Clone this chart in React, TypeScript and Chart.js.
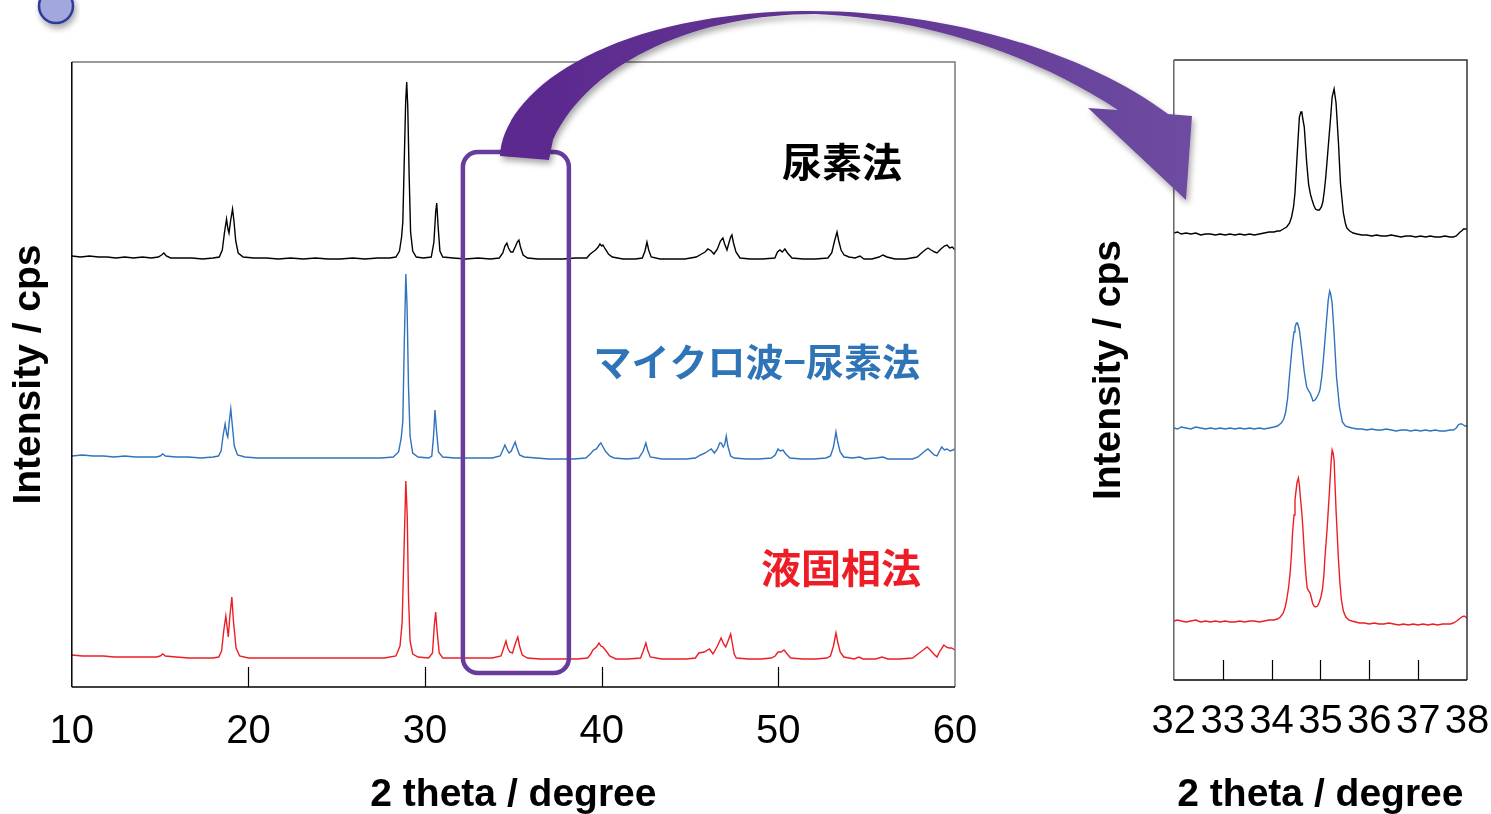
import React, { useEffect, useRef } from 'react';
import { Chart, registerables } from 'chart.js';

Chart.register(...registerables);

type Pt = [number, number];

// ---------- text ----------
const SERIES_NAMES = ['尿素法', 'マイクロ波−尿素法', '液固相法'];
const X_TITLE = '2 theta / degree';
const Y_TITLE = 'Intensity / cps';

// ---------- ticks ----------
const MAIN_X_TICKS = [10, 20, 30, 40, 50, 60];
const ZOOM_X_TICKS = [32, 33, 34, 35, 36, 37, 38];

// ---------- vertical offsets of the stacked patterns ----------
const MAIN_OFFSETS = [430, 231, 31];
const ZOOM_OFFSETS = [447, 252, 59];

// ---------- full patterns (2θ, relative intensity) ----------
const mainUrea: Pt[] = [
  [10.0, 1], [10.5, 0], [11.0, 1], [11.5, 0], [12.0, 0], [12.5, -1], [13.0, 0], [13.5, -1], [14.0, 0], [14.5, -1],
  [14.9, 0], [15.08, 2], [15.21, 4], [15.35, 1], [15.6, -1], [16.2, -1], [16.8, -1], [17.4, -2], [18.0, -1], [18.35, 0],
  [18.52, 7], [18.64, 24], [18.76, 38], [18.84, 28], [18.9, 24], [18.98, 35], [19.1, 48], [19.18, 36], [19.28, 16], [19.42, 4],
  [19.7, 0], [20.3, -1], [21.0, -1], [21.7, -2], [22.4, -1], [23.1, -2], [23.8, -1], [24.5, -2], [25.2, -2], [25.9, -1],
  [26.6, -2], [27.3, -1], [28.0, -1], [28.35, 0], [28.55, 6], [28.67, 20], [28.74, 35], [28.82, 95], [28.9, 155], [28.96, 175],
  [29.02, 150], [29.1, 80], [29.18, 25], [29.3, 6], [29.5, 0], [29.9, -1], [30.35, 0], [30.5, 15], [30.6, 45], [30.66, 54],
  [30.74, 30], [30.84, 6], [31.0, 0], [31.6, -1], [32.3, -2], [33.0, -1], [33.7, -2], [34.2, -1], [34.4, 4], [34.52, 11],
  [34.63, 14], [34.72, 9], [34.85, 5], [34.97, 5], [35.1, 10], [35.22, 15], [35.31, 17], [35.4, 10], [35.55, 2], [35.8, -1],
  [36.4, -2], [37.1, -2], [37.8, -2], [38.5, -1], [39.15, -1], [39.35, 3], [39.5, 5], [39.65, 7], [39.8, 10], [39.9, 13],
  [40.0, 11], [40.07, 12], [40.2, 8], [40.38, 3], [40.6, 0], [41.2, -2], [41.9, -2], [42.3, -1], [42.45, 6], [42.56, 15],
  [42.66, 7], [42.8, 0], [43.3, -2], [44.0, -2], [44.7, -2], [45.35, 0], [45.65, 3], [45.85, 5], [46.01, 8], [46.2, 6],
  [46.35, 3], [46.55, 8], [46.72, 16], [46.86, 19], [46.96, 13], [47.09, 7], [47.2, 14], [47.3, 20], [47.37, 22], [47.46, 14],
  [47.6, 5], [47.83, -1], [48.4, -2], [49.1, -2], [49.8, -1], [49.95, 5], [50.09, 7], [50.22, 5], [50.37, 8], [50.52, 4],
  [50.77, -1], [51.4, -2], [52.1, -2], [52.8, -1], [53.02, 4], [53.18, 16], [53.32, 25], [53.42, 16], [53.55, 7], [53.72, 2],
  [54.0, 0], [54.35, -1], [54.62, 1], [54.85, -2], [55.3, -2], [55.7, 0], [55.92, 2], [56.15, 0], [56.6, -2], [57.2, -2],
  [57.85, 0], [58.1, 4], [58.3, 7], [58.47, 9], [58.65, 7], [58.85, 5], [58.98, 4], [59.2, 8], [59.4, 11], [59.55, 12],
  [59.7, 9], [59.85, 10], [60.0, 7],
];

const mainMicrowave: Pt[] = [
  [10.0, 0], [10.6, 1], [11.2, 0], [11.8, 0], [12.4, -1], [13.0, 0], [13.6, -1], [14.2, -1], [14.8, -1], [15.0, 0],
  [15.15, 2], [15.3, 0], [15.9, -1], [16.6, -1], [17.3, -2], [18.0, -1], [18.3, 0], [18.45, 5], [18.57, 21], [18.68, 32],
  [18.77, 22], [18.83, 19], [18.92, 35], [19.0, 47], [19.08, 32], [19.2, 10], [19.38, 1], [19.8, -1], [20.5, -2], [21.2, -2],
  [21.9, -2], [22.6, -2], [23.3, -2], [24.0, -2], [24.7, -2], [25.4, -2], [26.1, -2], [26.8, -2], [27.5, -2], [28.2, -1],
  [28.5, 4], [28.65, 18], [28.74, 35], [28.82, 110], [28.91, 182], [28.98, 150], [29.06, 70], [29.15, 20], [29.3, 3], [29.6, -1],
  [30.2, -2], [30.38, 0], [30.48, 20], [30.56, 46], [30.65, 25], [30.76, 4], [31.0, -1], [31.7, -2], [32.4, -2], [33.1, -2],
  [33.8, -2], [34.25, 0], [34.4, 6], [34.52, 11], [34.62, 7], [34.75, 3], [34.88, 5], [35.0, 10], [35.1, 14], [35.2, 8],
  [35.35, 1], [35.6, -1], [36.3, -2], [37.0, -3], [37.7, -3], [38.4, -3], [39.1, -2], [39.35, 2], [39.55, 6], [39.7, 7],
  [39.85, 11], [39.95, 13], [40.05, 10], [40.2, 5], [40.45, 0], [40.7, -2], [41.4, -3], [42.1, -2], [42.35, 5], [42.5, 13],
  [42.6, 6], [42.75, -1], [43.4, -3], [44.1, -3], [44.8, -3], [45.3, -2], [45.6, 1], [45.86, 3], [46.02, 5], [46.2, 7],
  [46.38, 3], [46.55, 7], [46.68, 13], [46.76, 13], [46.88, 9], [46.97, 12], [47.05, 20], [47.14, 10], [47.3, 0], [47.5, -2],
  [48.2, -3], [48.9, -3], [49.6, -2], [49.82, 1], [49.98, 7], [50.1, 5], [50.26, 6], [50.42, 2], [50.65, -2], [51.3, -3],
  [52.0, -3], [52.7, -2], [52.95, 0], [53.12, 9], [53.26, 24], [53.36, 14], [53.5, 4], [53.7, -1], [54.2, -2], [54.6, -1],
  [54.9, -3], [55.5, -2], [55.92, -1], [56.2, -3], [56.9, -3], [57.6, -3], [57.9, -1], [58.1, 2], [58.3, 5], [58.47, 7],
  [58.65, 4], [58.82, 1], [58.98, 0], [59.12, 5], [59.25, 9], [59.4, 6], [59.55, 7], [59.72, 5], [59.88, 6], [60.0, 7],
];

const mainLiquid: Pt[] = [
  [10.0, 1], [10.6, 0], [11.2, 0], [11.8, 0], [12.4, -1], [13.0, -1], [13.6, -1], [14.2, -1], [14.8, -1], [15.0, 0],
  [15.15, 2], [15.3, 0], [15.9, -1], [16.6, -2], [17.3, -2], [18.0, -2], [18.32, -1], [18.48, 5], [18.6, 25], [18.72, 40],
  [18.8, 28], [18.86, 19], [18.95, 40], [19.06, 59], [19.15, 35], [19.3, 8], [19.5, 0], [20.0, -2], [20.7, -2], [21.4, -2],
  [22.1, -2], [22.8, -2], [23.5, -2], [24.2, -2], [24.9, -2], [25.6, -2], [26.3, -2], [27.0, -2], [27.7, -2], [28.35, 0],
  [28.58, 10], [28.7, 33], [28.8, 100], [28.91, 175], [28.99, 140], [29.06, 60], [29.15, 15], [29.3, 2], [29.6, -1], [30.2, -2],
  [30.42, 3], [30.52, 30], [30.6, 44], [30.68, 25], [30.8, 3], [31.0, -2], [31.7, -2], [32.4, -2], [33.1, -2], [33.8, -2],
  [34.3, 0], [34.45, 8], [34.58, 15], [34.68, 8], [34.8, 4], [34.95, 3], [35.1, 12], [35.25, 19], [35.35, 10], [35.5, 1],
  [35.8, -2], [36.5, -3], [37.2, -3], [37.9, -3], [38.6, -3], [39.2, -2], [39.38, 2], [39.5, 6], [39.7, 9], [39.85, 13],
  [39.95, 10], [40.07, 9], [40.25, 5], [40.45, 0], [40.8, -3], [41.5, -3], [42.2, -2], [42.35, 5], [42.5, 13], [42.6, 6],
  [42.75, -1], [43.4, -3], [44.1, -3], [44.8, -3], [45.3, -2], [45.5, 3], [45.8, 4], [46.1, 7], [46.3, 2], [46.55, 10],
  [46.76, 18], [46.9, 12], [47.02, 9], [47.15, 15], [47.3, 22], [47.4, 12], [47.5, 2], [47.62, -2], [48.3, -3], [49.0, -3],
  [49.6, -2], [49.82, 0], [49.98, 4], [50.15, 4], [50.32, 6], [50.5, 2], [50.7, -2], [51.4, -3], [52.1, -3], [52.75, -2],
  [52.95, 0], [53.12, 10], [53.26, 23], [53.36, 14], [53.5, 4], [53.7, -1], [54.3, -3], [54.56, -1], [54.8, -3], [55.5, -3],
  [55.87, -1], [56.2, -3], [56.9, -3], [57.6, -2], [57.9, 2], [58.2, 6], [58.42, 9], [58.6, 6], [58.8, 2], [58.98, -1],
  [59.15, 5], [59.37, 11], [59.5, 9], [59.65, 8], [59.8, 8], [60.0, 6],
];

// ---------- zoomed patterns 32–38° ----------
const zoomUrea: Pt[] = [
  [32.0, 0], [32.08, 1], [32.15, -1], [32.25, 0], [32.35, -1], [32.45, 0], [32.55, -2], [32.65, -1], [32.75, -1], [32.85, -2],
  [32.95, -1], [33.05, -2], [33.15, -1], [33.25, -2], [33.35, -1], [33.45, -2], [33.55, -1], [33.65, -2], [33.75, -1], [33.85, 0],
  [33.95, 1], [34.05, 1], [34.12, 2], [34.17, 2], [34.24, 4], [34.31, 6], [34.37, 10], [34.41, 16], [34.45, 26], [34.48, 40],
  [34.53, 83], [34.57, 116], [34.6, 121], [34.62, 121], [34.64, 114], [34.67, 106], [34.72, 70], [34.76, 48], [34.8, 38], [34.83, 33],
  [34.87, 27], [34.9, 24], [34.94, 23], [34.98, 23], [35.02, 26], [35.05, 31], [35.08, 42], [35.11, 56], [35.16, 86], [35.21, 116],
  [35.24, 136], [35.28, 144], [35.32, 130], [35.37, 90], [35.41, 50], [35.47, 20], [35.51, 10], [35.54, 5], [35.6, 2], [35.67, 0],
  [35.75, -1], [35.85, -2], [35.95, -2], [36.05, -3], [36.15, -2], [36.25, -3], [36.35, -3], [36.45, -2], [36.55, -3], [36.65, -4],
  [36.75, -3], [36.85, -3], [36.95, -4], [37.05, -3], [37.15, -4], [37.25, -3], [37.35, -4], [37.45, -4], [37.55, -3], [37.65, -4],
  [37.72, -4], [37.78, -3], [37.82, -1], [37.86, 1], [37.89, 2], [37.93, 4], [37.96, 4], [38.0, 4],
];

const zoomMicrowave: Pt[] = [
  [32.0, 0], [32.08, -1], [32.15, 1], [32.25, 0], [32.35, -1], [32.45, 1], [32.55, 0], [32.65, -1], [32.75, 0], [32.85, -1],
  [32.95, 0], [33.05, -1], [33.15, 0], [33.25, -1], [33.35, 0], [33.45, -1], [33.55, 0], [33.65, -1], [33.75, 0], [33.85, -1],
  [33.95, 0], [34.05, 1], [34.12, 2], [34.2, 5], [34.25, 9], [34.29, 16], [34.33, 30], [34.36, 48], [34.4, 70], [34.43, 85],
  [34.46, 96], [34.48, 101], [34.51, 105], [34.53, 105], [34.57, 98], [34.62, 78], [34.67, 56], [34.72, 41], [34.76, 37], [34.79, 35],
  [34.82, 31], [34.85, 27], [34.89, 28], [34.92, 30], [34.96, 34], [34.99, 38], [35.03, 52], [35.06, 68], [35.11, 98], [35.16, 128],
  [35.19, 137], [35.21, 134], [35.24, 125], [35.28, 95], [35.33, 51], [35.39, 21], [35.45, 6], [35.51, 2], [35.57, 1], [35.65, 0],
  [35.75, -1], [35.85, -1], [35.95, -2], [36.05, -1], [36.15, -2], [36.25, -2], [36.35, -1], [36.45, -2], [36.55, -3], [36.65, -2],
  [36.75, -2], [36.85, -3], [36.95, -2], [37.05, -3], [37.15, -2], [37.25, -3], [37.35, -2], [37.45, -3], [37.55, -3], [37.65, -2],
  [37.72, -2], [37.78, 0], [37.82, 3], [37.86, 4], [37.89, 4], [37.93, 3], [37.96, 2], [38.0, 2],
];

const zoomLiquid: Pt[] = [
  [32.0, 0], [32.08, 1], [32.15, 0], [32.25, -1], [32.35, 0], [32.45, 1], [32.55, -1], [32.65, 0], [32.75, -1], [32.85, 0],
  [32.95, -1], [33.05, 0], [33.15, -1], [33.25, -1], [33.35, 0], [33.45, -1], [33.55, 0], [33.65, 0], [33.75, -1], [33.85, 0],
  [33.95, 1], [34.05, 1], [34.12, 2], [34.18, 4], [34.24, 8], [34.28, 14], [34.31, 21], [34.35, 34], [34.38, 48], [34.41, 68],
  [34.43, 88], [34.46, 106], [34.48, 121], [34.52, 138], [34.55, 143], [34.57, 136], [34.59, 124], [34.62, 108], [34.64, 94], [34.68, 61],
  [34.71, 42], [34.73, 33], [34.76, 30], [34.79, 28], [34.82, 22], [34.84, 18], [34.87, 15], [34.9, 14], [34.94, 15], [34.98, 19],
  [35.01, 24], [35.04, 31], [35.07, 45], [35.09, 61], [35.14, 94], [35.19, 134], [35.22, 160], [35.24, 171], [35.26, 168], [35.28, 161],
  [35.32, 111], [35.37, 61], [35.4, 38], [35.43, 21], [35.47, 10], [35.52, 4], [35.58, 1], [35.64, 0], [35.72, -1], [35.8, -2],
  [35.9, -2], [36.0, -3], [36.1, -2], [36.2, -3], [36.3, -3], [36.4, -2], [36.5, -3], [36.6, -4], [36.7, -3], [36.8, -4],
  [36.9, -3], [37.0, -4], [37.1, -3], [37.2, -4], [37.3, -3], [37.4, -4], [37.5, -3], [37.6, -3], [37.66, -3], [37.72, -2],
  [37.79, 0], [37.84, 2], [37.89, 4], [37.94, 5], [38.0, 3],
];

// ---------- styling ----------
const SERIES_COLORS = ['#000000', '#2f72bd', '#ee1d25'];
const LABEL_COLORS = ['#000000', '#2e74b7', '#ee1d25'];
const PURPLE = '#683c9c';
const LATIN = "'Liberation Sans', Arial, Helvetica, sans-serif";
const CJK = "'Noto Sans CJK JP', 'Noto Sans CJK SC', sans-serif";

function makeDatasets(series: Pt[][], offsets: number[]) {
  return series.map((pts, i) => ({
    label: SERIES_NAMES[i],
    data: pts.map(([x, y]) => ({ x, y: y + offsets[i] })),
    borderColor: SERIES_COLORS[i],
    backgroundColor: SERIES_COLORS[i],
    borderWidth: 1.4,
    pointRadius: 0,
    tension: 0,
    fill: false,
  }));
}

type OverlayOpts = {
  tickLen: number;
  topRightColor: string;
  leftColor: string;
  labels?: { text: string; color: string; x: number; y: number; size: number }[];
  box?: { x1: number; x2: number; y1: number; y2: number };
};

function overlayPlugin(o: OverlayOpts) {
  return {
    id: 'overlay',
    afterDatasetsDraw(chart: any) {
      const { ctx, chartArea: a, scales } = chart;
      const xs = scales.x;
      const ys = scales.y;
      ctx.save();
      // frame
      ctx.lineWidth = 1.5;
      ctx.strokeStyle = o.topRightColor;
      ctx.beginPath();
      ctx.moveTo(a.left, a.top);
      ctx.lineTo(a.right, a.top);
      ctx.lineTo(a.right, a.bottom);
      ctx.stroke();
      ctx.strokeStyle = o.leftColor;
      ctx.beginPath();
      ctx.moveTo(a.left, a.top);
      ctx.lineTo(a.left, a.bottom);
      ctx.stroke();
      ctx.strokeStyle = '#000';
      ctx.beginPath();
      ctx.moveTo(a.left, a.bottom);
      ctx.lineTo(a.right, a.bottom);
      ctx.stroke();
      // inward tick marks
      ctx.lineWidth = 1.2;
      ctx.strokeStyle = '#000';
      xs.ticks.forEach((t: any) => {
        if (t.value <= xs.min || t.value >= xs.max) return;
        const px = Math.round(xs.getPixelForValue(t.value)) + 0.5;
        ctx.beginPath();
        ctx.moveTo(px, a.bottom);
        ctx.lineTo(px, a.bottom - o.tickLen);
        ctx.stroke();
      });
      // series labels
      (o.labels || []).forEach((l) => {
        ctx.font = `bold ${l.size}px ${CJK}`;
        ctx.fillStyle = l.color;
        ctx.textAlign = 'right';
        ctx.textBaseline = 'middle';
        ctx.fillText(l.text, xs.getPixelForValue(l.x), ys.getPixelForValue(l.y));
      });
      // highlight box
      if (o.box) {
        const x1 = xs.getPixelForValue(o.box.x1);
        const x2 = xs.getPixelForValue(o.box.x2);
        const y1 = ys.getPixelForValue(o.box.y1);
        const y2 = ys.getPixelForValue(o.box.y2);
        ctx.lineWidth = 4.5;
        ctx.strokeStyle = PURPLE;
        ctx.beginPath();
        ctx.roundRect(x1, y1, x2 - x1, y2 - y1, 15);
        ctx.stroke();
      }
      ctx.restore();
    },
  };
}

function axisConfig(ticks: number[], tickPad: number, titlePadTop: number, yMax: number, yTitlePadBottom: number) {
  return {
    x: {
      type: 'linear',
      min: ticks[0],
      max: ticks[ticks.length - 1],
      afterBuildTicks: (s: any) => {
        s.ticks = ticks.map((v) => ({ value: v }));
      },
      ticks: {
        font: { family: LATIN, size: 40 },
        color: '#000',
        padding: tickPad,
        maxRotation: 0,
        minRotation: 0,
        autoSkip: false,
      },
      grid: { display: false, drawTicks: false },
      border: { display: false },
      title: {
        display: true,
        text: X_TITLE,
        color: '#000',
        font: { family: LATIN, size: 39, weight: 'bold' },
        padding: { top: titlePadTop, bottom: -5 },
      },
    },
    y: {
      type: 'linear',
      min: 0,
      max: yMax,
      ticks: { display: false },
      grid: { display: false, drawTicks: false },
      border: { display: false },
      title: {
        display: true,
        text: Y_TITLE,
        color: '#000',
        font: { family: LATIN, size: 39, weight: 'bold' },
        padding: { top: 0, bottom: yTitlePadBottom },
      },
    },
  };
}

function mainConfig(): any {
  return {
    type: 'line',
    data: { datasets: makeDatasets([mainUrea, mainMicrowave, mainLiquid], MAIN_OFFSETS) },
    options: {
      responsive: false,
      animation: false,
      events: [],
      layout: { padding: { left: 6, top: 62, right: 45, bottom: 0 } },
      plugins: { legend: { display: false }, tooltip: { enabled: false } },
      scales: axisConfig(MAIN_X_TICKS, 21, -4.8, 625, 19),
    },
    plugins: [
      overlayPlugin({
        tickLen: 20,
        topRightColor: '#7a7a7a',
        leftColor: '#000',
        labels: [
          { text: SERIES_NAMES[0], color: LABEL_COLORS[0], x: 57.0, y: 525, size: 40 },
          { text: SERIES_NAMES[1], color: LABEL_COLORS[1], x: 58.02, y: 325, size: 38 },
          { text: SERIES_NAMES[2], color: LABEL_COLORS[2], x: 58.08, y: 119, size: 40 },
        ],
        box: { x1: 32.14, x2: 38.14, y1: 535, y2: 14 },
      }),
    ],
  };
}

function zoomConfig(): any {
  return {
    type: 'line',
    data: { datasets: makeDatasets([zoomUrea, zoomMicrowave, zoomLiquid], ZOOM_OFFSETS) },
    options: {
      responsive: false,
      animation: false,
      events: [],
      layout: { padding: { left: 26, top: 60, right: 43, bottom: 0 } },
      plugins: { legend: { display: false }, tooltip: { enabled: false } },
      scales: axisConfig(ZOOM_X_TICKS, 18, 8.2, 620, 41),
    },
    plugins: [overlayPlugin({ tickLen: 20, topRightColor: '#333', leftColor: '#666' })],
  };
}

function ChartCanvas({ make, left, width, height }: { make: () => any; left: number; width: number; height: number }) {
  const ref = useRef<HTMLCanvasElement>(null);
  useEffect(() => {
    const chart = new Chart(ref.current as HTMLCanvasElement, make());
    return () => chart.destroy();
  }, []);
  return (
    <canvas
      ref={ref}
      width={width}
      height={height}
      style={{ position: 'absolute', left, top: 0, width, height, display: 'block' }}
    />
  );
}

export default function App() {
  return (
    <div
      style={{
        position: 'fixed',
        left: 0,
        top: 0,
        width: 1491,
        height: 814,
        overflow: 'hidden',
        background: '#fff',
      }}
    >
      <ChartCanvas make={mainConfig} left={0} width={1000} height={814} />
      <ChartCanvas make={zoomConfig} left={1060} width={450} height={814} />
      <svg
        width={1491}
        height={814}
        style={{ position: 'absolute', left: 0, top: 0, pointerEvents: 'none' }}
      >
        <defs>
          <linearGradient id="arrowGrad" x1="0" y1="0" x2="1" y2="0">
            <stop offset="0" stopColor="#5b2a8e" />
            <stop offset="0.5" stopColor="#623594" />
            <stop offset="1" stopColor="#6e4ca1" />
          </linearGradient>
          <filter id="shadow" x="-10%" y="-10%" width="130%" height="140%">
            <feDropShadow dx="2" dy="4" stdDeviation="3" floodColor="#000" floodOpacity="0.35" />
          </filter>
        </defs>
        <circle cx={56} cy={6} r={17} fill="#a3a8dc" stroke="#2d3a9b" strokeWidth={2.5} filter="url(#shadow)" />
        <path
          d="M 500 156 C 502 95 600 15 800 11 C 950 9 1090 55 1168 114 L 1192 116 L 1186 200 L 1088 108 L 1118 110 C 1030 52 920 18 815 14 C 700 14 590 60 553 140 L 549 160 Z"
          fill="url(#arrowGrad)"
          filter="url(#shadow)"
        />
      </svg>
    </div>
  );
}
